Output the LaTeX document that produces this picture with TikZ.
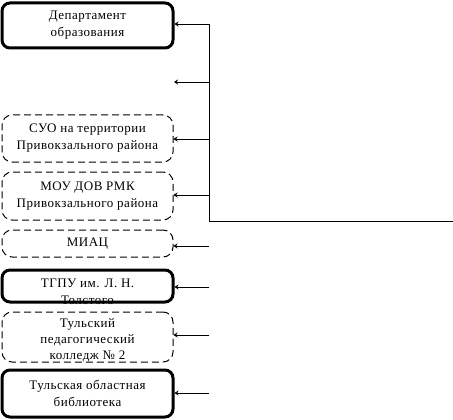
\documentclass[tikz,border=0pt]{standalone}
\usepackage{fontspec}
\setmainfont{Liberation Serif}
\usetikzlibrary{arrows.meta}
\begin{document}
\begin{tikzpicture}[x=1pt,y=-1pt,
  solidbox/.style={draw, line width=3pt, rounded corners=8pt, inner sep=0pt},
  dashbox/.style={draw, line width=1pt, dash pattern=on 7pt off 4pt, rounded corners=10pt, inner sep=0pt},
  txt/.style={font=\fontsize{13}{17}\selectfont\addfontfeatures{LetterSpace=4}, align=center},
  arr/.style={-{Stealth[length=4pt,width=5pt]}, line width=0.9pt},
  ln/.style={line width=0.9pt}]
\useasboundingbox (0,0) rectangle (453,420);

\node[solidbox, minimum width=171pt, minimum height=45pt, txt] (dep) at (87.5,25.5) {Департамент\\образования};
\node[dashbox, minimum width=171pt, minimum height=47pt, txt] (suo) at (87.5,138.5) {СУО на территории\\Привокзального района};
\node[dashbox, minimum width=171pt, minimum height=48pt, txt] (mou) at (87.5,196) {МОУ ДОВ РМК\\Привокзального района};
\node[dashbox, minimum width=171pt, minimum height=27pt, txt] (miac) at (87.5,243.5) {МИАЦ};
\node[txt] (tgputxt) at (87.5,292) {ТГПУ им. Л. Н.\\Толстого};
\node[solidbox, minimum width=171pt, minimum height=32pt] (tgpu) at (87.5,286) {};
\node[txt, font=\fontsize{13}{16}\selectfont\addfontfeatures{LetterSpace=4}] (coltxt) at (87.5,340) {Тульский\\педагогический\\колледж № 2};
\node[dashbox, minimum width=171pt, minimum height=50pt] (col) at (87.5,337) {};
\node[solidbox, minimum width=171pt, minimum height=47pt, txt] (lib) at (87.5,393.5) {Тульская областная\\библиотека};

\coordinate (v1) at (209,24);
\coordinate (v2) at (209,82);
\coordinate (e2) at (174,82);
\coordinate (v3) at (209,139);
\coordinate (v4) at (209,195);
\coordinate (vb) at (209,221);
\coordinate (hr) at (453,221);
\coordinate (s5) at (209,246);
\coordinate (s6) at (209,287);
\coordinate (s7) at (209,335);
\coordinate (s8) at (209,393);

\draw[ln] (v1) -- (vb) -- (hr);
\draw[arr] (v1) -- (dep.east |- v1);
\draw[arr] (v2) -- (e2);
\draw[arr] (v3) -- (suo.east |- v3);
\draw[arr] (v4) -- (mou.east |- v4);
\draw[arr] (s5) -- (miac.east |- s5);
\draw[arr] (s6) -- (tgpu.east |- s6);
\draw[arr] (s7) -- (col.east |- s7);
\draw[arr] (s8) -- (lib.east |- s8);
\end{tikzpicture}
\end{document}
